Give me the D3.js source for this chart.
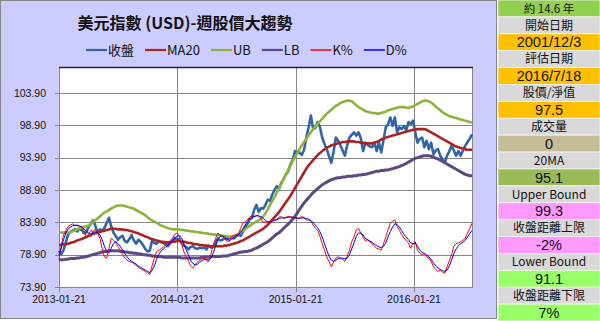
<!DOCTYPE html>
<html>
<head>
<meta charset="utf-8">
<script src="https://cdn.jsdelivr.net/npm/d3@7"></script>
<style>
  body { margin: 0; background: #fff; }
  svg { display: block; }
</style>
</head>
<body>
<svg width="600" height="321"></svg>
<script>
// 週資料 2013-01-21 ~ 2016-07-18
var startDate = "2013-01-21", endDate = "2016-07-18";

var closeVals = [
  79.5, 79.0, 79.6, 80.8, 82.0, 82.4, 82.6, 82.8, 82.5, 82.9,
  82.7, 82.2, 82.3, 83.2, 83.6, 84.2, 83.4, 82.3, 82.8, 82.6,
  83.0, 83.8, 84.6, 83.3, 82.3, 81.8, 81.2, 81.6, 81.8, 81.0,
  80.8, 81.3, 81.9, 81.1, 80.6, 81.2, 80.9, 80.4, 79.8, 79.4,
  79.5, 81.1, 80.7, 80.6, 81.0, 80.8, 80.7, 80.5, 80.2, 80.7,
  81.0, 81.5, 81.2, 81.3, 80.7, 80.3, 80.1, 79.7, 80.1, 80.2,
  79.9, 79.8, 80.0, 79.9, 80.0, 79.7, 80.3, 80.0, 80.1, 80.8,
  81.4, 81.1, 81.2, 81.4, 81.3, 81.5, 81.6, 81.4, 81.7, 82.0,
  81.8, 82.4, 83.2, 83.6, 84.4, 84.6, 85.8, 86.6, 85.5, 86.1,
  86.0, 86.6, 87.4, 87.2, 88.2, 88.9, 89.5, 89.1, 90.0, 90.6,
  91.3, 91.8, 92.9, 93.6, 94.9, 94.5, 94.7, 94.3, 95.1, 97.0,
  98.6, 100.4, 98.3, 98.5, 99.4, 98.6, 97.0, 96.0, 95.2, 94.1,
  93.1, 94.8, 97.0, 96.5, 95.8, 95.0, 94.2, 95.8, 97.0, 97.4,
  97.8, 97.3, 97.8, 96.9, 94.9, 96.2, 95.9, 95.6, 95.5, 96.2,
  94.9, 96.2, 94.7, 96.6, 98.6, 99.0, 100.1, 98.8, 100.1, 97.8,
  98.6, 98.3, 98.8, 98.1, 99.4, 99.1, 99.6, 97.8, 96.2, 96.8,
  97.0, 95.5, 96.5, 95.2, 96.2, 94.4, 95.0, 95.2, 94.2, 93.6,
  93.1, 94.2, 94.9, 95.7, 95.0, 94.2, 94.9, 94.2, 95.0, 95.7,
  96.3, 96.8, 97.5
];

var ma20Vals = [
  80.4, 80.4, 80.5, 80.5, 80.6, 80.7, 80.8, 80.9, 81.1, 81.2,
  81.3, 81.5, 81.6, 81.8, 81.9, 82.1, 82.2, 82.3, 82.4, 82.5,
  82.6, 82.7, 82.8, 82.9, 82.9, 82.9, 82.8, 82.8, 82.8, 82.7,
  82.7, 82.6, 82.5, 82.4, 82.3, 82.2, 82.0, 81.9, 81.7, 81.6,
  81.4, 81.3, 81.2, 81.1, 81.0, 80.9, 80.9, 80.8, 80.8, 80.8,
  80.9, 80.9, 81.0, 81.0, 80.9, 80.9, 80.8, 80.7, 80.7, 80.6,
  80.5, 80.5, 80.4, 80.4, 80.3, 80.3, 80.2, 80.2, 80.2, 80.2,
  80.2, 80.2, 80.2, 80.3, 80.3, 80.4, 80.5, 80.6, 80.7, 80.8,
  81.0, 81.1, 81.3, 81.5, 81.7, 81.9, 82.1, 82.3, 82.5, 82.7,
  82.9, 83.2, 83.5, 83.9, 84.3, 84.7, 85.1, 85.5, 86.0, 86.5,
  87.0, 87.5, 88.0, 88.6, 89.2, 89.8, 90.4, 91.0, 91.6, 92.2,
  92.7, 93.1, 93.5, 93.9, 94.3, 94.6, 94.9, 95.2, 95.4, 95.6,
  95.8, 95.9, 96.0, 96.1, 96.2, 96.3, 96.3, 96.4, 96.4, 96.4,
  96.4, 96.3, 96.3, 96.2, 96.2, 96.1, 96.1, 96.1, 96.1, 96.2,
  96.3, 96.5, 96.7, 96.8, 97.0, 97.1, 97.2, 97.3, 97.4, 97.5,
  97.6, 97.7, 97.8, 97.9, 98.0, 98.1, 98.2, 98.2, 98.3, 98.3,
  98.3, 98.3, 98.2, 98.0, 97.8, 97.6, 97.4, 97.2, 97.0, 96.8,
  96.6, 96.4, 96.2, 96.0, 95.8, 95.6, 95.5, 95.4, 95.3, 95.2,
  95.1, 95.1, 95.1
];

var ubVals = [
  82.3, 82.3, 82.3, 82.3, 82.3, 82.4, 82.5, 82.6, 82.8, 83.0,
  83.1, 83.2, 83.3, 83.4, 83.6, 83.9, 84.2, 84.5, 84.8, 85.1,
  85.4, 85.6, 85.8, 86.0, 86.2, 86.4, 86.5, 86.5, 86.5, 86.4,
  86.3, 86.2, 86.1, 86.0, 85.8, 85.6, 85.4, 85.2, 85.0, 84.7,
  84.4, 84.2, 84.0, 83.8, 83.6, 83.4, 83.3, 83.1, 83.0, 82.9,
  82.8, 82.8, 82.8, 82.8, 82.7, 82.7, 82.6, 82.6, 82.5, 82.5,
  82.4, 82.4, 82.3, 82.3, 82.2, 82.2, 82.1, 82.1, 82.0, 82.0,
  81.9, 81.9, 81.8, 81.8, 81.7, 81.7, 81.7, 81.8, 81.9, 82.1,
  82.4, 82.6, 82.8, 83.1, 83.3, 83.6, 83.8, 84.0, 84.2, 84.5,
  84.8, 85.3, 85.9, 86.6, 87.2, 87.8, 88.5, 89.2, 89.9, 90.6,
  91.3, 92.0, 92.7, 93.4, 94.0, 94.6, 95.2, 95.8, 96.3, 96.8,
  97.3, 97.8, 98.3, 98.7, 99.1, 99.5, 99.9, 100.3, 100.7, 101.0,
  101.3, 101.6, 101.9, 102.1, 102.3, 102.5, 102.6, 102.7, 102.7, 102.6,
  102.3, 102.0, 101.7, 101.5, 101.3, 101.1, 101.0, 100.9, 100.8, 100.8,
  100.7, 100.7, 100.8, 100.9, 101.0, 101.2, 101.3, 101.4, 101.5, 101.6,
  101.7, 101.7, 101.7, 101.6, 101.6, 101.7, 101.8, 102.0, 102.2, 102.4,
  102.6, 102.7, 102.7, 102.6, 102.4, 102.1, 101.8, 101.5, 101.2, 100.9,
  100.7, 100.5, 100.3, 100.2, 100.1, 100.0, 99.9, 99.8, 99.7, 99.6,
  99.5, 99.4, 99.3
];

var lbVals = [
  78.1, 78.1, 78.1, 78.2, 78.2, 78.3, 78.3, 78.3, 78.4, 78.4,
  78.5, 78.5, 78.6, 78.7, 78.8, 78.9, 79.0, 79.1, 79.2, 79.3,
  79.4, 79.4, 79.5, 79.5, 79.5, 79.5, 79.5, 79.4, 79.4, 79.3,
  79.3, 79.2, 79.2, 79.1, 79.1, 79.0, 79.0, 78.9, 78.9, 78.8,
  78.8, 78.7, 78.7, 78.6, 78.6, 78.6, 78.5, 78.5, 78.5, 78.5,
  78.5, 78.5, 78.5, 78.5, 78.4, 78.4, 78.4, 78.4, 78.4, 78.4,
  78.4, 78.4, 78.4, 78.5, 78.5, 78.5, 78.5, 78.6, 78.6, 78.6,
  78.6, 78.6, 78.7, 78.7, 78.7, 78.8, 78.9, 79.0, 79.1, 79.2,
  79.3, 79.3, 79.4, 79.4, 79.5, 79.6, 79.8, 79.9, 80.1, 80.3,
  80.5, 80.7, 80.9, 81.2, 81.5, 81.8, 82.1, 82.3, 82.6, 83.0,
  83.3, 83.6, 84.0, 84.4, 84.8, 85.3, 85.9, 86.4, 86.9, 87.3,
  87.7, 88.1, 88.5, 88.8, 89.1, 89.4, 89.7, 89.9, 90.1, 90.3,
  90.5, 90.6, 90.7, 90.8, 90.8, 90.9, 90.9, 91.0, 91.0, 91.0,
  91.1, 91.1, 91.2, 91.2, 91.3, 91.3, 91.4, 91.5, 91.6, 91.7,
  91.8, 91.8, 91.9, 91.9, 92.0, 92.0, 92.1, 92.2, 92.3, 92.4,
  92.5, 92.7, 92.8, 93.0, 93.2, 93.4, 93.6, 93.8, 93.9, 94.0,
  94.1, 94.2, 94.2, 94.2, 94.1, 94.0, 93.8, 93.7, 93.5, 93.3,
  93.1, 92.9, 92.7, 92.5, 92.3, 92.1, 91.9, 91.7, 91.5, 91.3,
  91.2, 91.1, 91.1
];

var kVals = [
  27, 50, 65, 72, 78, 80, 82, 79, 80, 78,
  78, 72, 63, 66, 72, 70, 74, 68, 60, 45,
  32, 30, 45, 60, 57, 53, 48, 42, 36, 30,
  27, 25, 24, 22, 19, 16, 14, 12, 10, 8,
  5, 18, 30, 40, 42, 44, 47, 50, 53, 57,
  60, 66, 68, 63, 52, 40, 32, 27, 18, 15,
  20, 24, 27, 29, 30, 26, 25, 37, 50, 60,
  68, 65, 62, 60, 56, 55, 62, 64, 66, 65,
  75, 83, 85, 88, 92, 95, 93, 95, 94, 90,
  84, 85, 84, 86, 88, 88, 89, 92, 93, 90,
  92, 93, 93, 92, 91, 90, 91, 93, 91, 88,
  88, 86, 80, 75, 72, 63, 52, 42, 32, 25,
  17, 24, 30, 32, 30, 28, 25, 33, 42, 55,
  62, 73, 75, 68, 62, 56, 58, 54, 52, 48,
  45, 44, 42, 52, 62, 73, 83, 86, 88, 78,
  72, 66, 60, 57, 53, 45, 52, 55, 42, 38,
  35, 37, 32, 30, 25, 17, 13, 10, 12, 9,
  7, 17, 26, 35, 48, 52, 53, 55, 57, 60,
  68, 75, 83
];

var dVals = [
  35, 45, 58, 68, 74, 77, 79, 80, 80, 79,
  77, 74, 71, 68, 67, 69, 70, 69, 65, 58,
  48, 40, 38, 45, 52, 55, 52, 48, 42, 37,
  32, 28, 25, 23, 21, 18, 16, 14, 12, 10,
  8, 11, 18, 28, 36, 41, 44, 47, 50, 53,
  56, 60, 63, 64, 61, 52, 43, 35, 27, 22,
  20, 21, 24, 26, 28, 28, 27, 30, 38, 48,
  58, 63, 64, 62, 59, 57, 58, 61, 64, 65,
  69, 74, 80, 85, 88, 92, 93, 94, 94, 93,
  90, 87, 85, 85, 86, 87, 88, 90, 91, 91,
  91, 92, 92, 92, 91, 91, 90, 91, 91, 90,
  89, 87, 84, 80, 76, 70, 62, 52, 42, 33,
  27, 25, 27, 29, 30, 30, 29, 30, 35, 44,
  53, 63, 68, 68, 65, 60, 58, 56, 54, 51,
  49, 47, 46, 48, 53, 62, 70, 77, 82, 81,
  77, 72, 66, 62, 58, 53, 52, 53, 48, 42,
  39, 37, 35, 32, 28, 23, 18, 15, 13, 11,
  10, 12, 18, 27, 37, 44, 49, 52, 54, 57,
  62, 67, 72
];

var yTicks = [73.9, 78.9, 83.9, 88.9, 93.9, 98.9, 103.9];
var xTickLabels = ["2013-01-21", "2014-01-21", "2015-01-21", "2016-01-21"];
var legendNames = ["收盤", "MA20", "UB", "LB", "K%", "D%"];

// 右側資訊欄
var panelTexts = ["約 14.6 年", "開始日期", "2001/12/3", "評估日期", "2016/7/18",
  "股價/淨值", "97.5", "成交量", "0", "20MA", "95.1", "Upper Bound", "99.3",
  "收盤距離上限", "-2%", "Lower Bound", "91.1", "收盤距離下限", "7%"];

(function () {
  var svg = d3.select("svg");
  var parse = d3.timeParse("%Y-%m-%d");
  var weeks = d3.timeMonday.range(parse(startDate), d3.timeDay.offset(parse(endDate), 1));

  var plot = { left: 59, right: 472, top: 67, bottom: 287 };
  var cjk = "'Noto Sans CJK TC', 'Noto Sans', sans-serif";
  var latin = "'Liberation Sans', Arial, sans-serif";

  var x = d3.scaleTime()
    .domain([weeks[0], weeks[weeks.length - 1]])
    .range([plot.left, plot.right]);
  var y = d3.scaleLinear()
    .domain([73.9, 107.9])
    .range([plot.bottom, plot.top]);
  // K% / D% 使用隱藏的次座標
  var yKD = d3.scaleLinear()
    .domain([0, 100])
    .range([y(75.3), y(85.5)]);

  // 圖表區背景
  svg.append("rect")
    .attr("x", 0.5).attr("y", 0.5)
    .attr("width", 496).attr("height", 318)
    .attr("fill", "#CCCCFF")
    .attr("stroke", "#868686");

  svg.append("rect")
    .attr("x", plot.left).attr("y", plot.top)
    .attr("width", plot.right - plot.left)
    .attr("height", plot.bottom - plot.top)
    .attr("fill", "#fff");

  // 格線
  var grid = svg.append("g").attr("stroke", "#868686").attr("stroke-width", 1);
  grid.selectAll("line.h")
    .data(yTicks)
    .enter().append("line")
    .attr("x1", plot.left - 4).attr("x2", plot.right)
    .attr("y1", function (d) { return Math.round(y(d)) + 0.5; })
    .attr("y2", function (d) { return Math.round(y(d)) + 0.5; });

  grid.selectAll("line.v")
    .data(xTickLabels)
    .enter().append("line")
    .attr("x1", function (d) { return Math.round(x(parse(d))) + 0.5; })
    .attr("x2", function (d) { return Math.round(x(parse(d))) + 0.5; })
    .attr("y1", plot.top)
    .attr("y2", plot.bottom + 5);

  svg.append("rect")
    .attr("x", plot.left + 0.5).attr("y", plot.top + 0.5)
    .attr("width", plot.right - plot.left)
    .attr("height", plot.bottom - plot.top)
    .attr("fill", "none")
    .attr("stroke", "#868686");
  svg.append("line")
    .attr("x1", plot.left).attr("x2", plot.right + 1)
    .attr("y1", plot.top + 0.5).attr("y2", plot.top + 0.5)
    .attr("stroke", "#222").attr("stroke-width", 1.5);

  // 座標軸文字
  svg.append("g").selectAll("text")
    .data(yTicks)
    .enter().append("text")
    .attr("x", 46)
    .attr("y", function (d) { return y(d); })
    .attr("dy", "0.35em")
    .attr("text-anchor", "end")
    .attr("font-family", latin)
    .attr("font-size", 10.5)
    .attr("fill", "#111")
    .text(d3.format(".2f"));

  svg.append("g").selectAll("text")
    .data(xTickLabels)
    .enter().append("text")
    .attr("x", function (d) { return x(parse(d)); })
    .attr("y", 303)
    .attr("text-anchor", "middle")
    .attr("font-family", latin)
    .attr("font-size", 10.5)
    .attr("fill", "#111")
    .text(function (d) { return d; });

  // 線
  var series = [
    { vals: closeVals, color: "#3165A5", w: 2.6, sc: y },
    { vals: ma20Vals, color: "#AA2424", w: 2.6, sc: y },
    { vals: ubVals, color: "#8CB43C", w: 2.6, sc: y },
    { vals: lbVals, color: "#5E4A82", w: 3, sc: y },
    { vals: kVals, color: "#FF0000", w: 1, sc: yKD },
    { vals: dVals, color: "#0000FF", w: 1, sc: yKD }
  ];

  series.forEach(function (s) {
    var line = d3.line()
      .x(function (d, i) { return x(weeks[i]); })
      .y(function (d) { return s.sc(d); });
    svg.append("path")
      .datum(s.vals)
      .attr("fill", "none")
      .attr("stroke", s.color)
      .attr("stroke-width", s.w)
      .attr("stroke-linejoin", "round")
      .attr("d", line);
  });

  // 標題
  svg.append("text")
    .attr("x", 185).attr("y", 29)
    .attr("text-anchor", "middle")
    .attr("font-family", cjk)
    .attr("font-size", 16)
    .attr("font-weight", "bold")
    .attr("fill", "#111")
    .text("美元指數 (USD)-週股價大趨勢");

  // 圖例
  var lx = 86;
  legendNames.forEach(function (name, i) {
    var s = series[i];
    svg.append("line")
      .attr("x1", lx).attr("x2", lx + 21)
      .attr("y1", 50).attr("y2", 50)
      .attr("stroke", s.color)
      .attr("stroke-width", s.w > 1.5 ? 2.2 : 1.5);
    var t = svg.append("text")
      .attr("x", lx + 22).attr("y", 50)
      .attr("dy", "0.35em")
      .attr("font-family", cjk)
      .attr("font-size", 13)
      .attr("fill", "#111")
      .text(name);
    lx += 22 + t.node().getComputedTextLength() + 11;
  });

  // 右側表格
  var rowH = 321 / panelTexts.length;
  var panelColors = ["#92D050", "#D9D9D9", "#FFC000", "#D9D9D9", "#FFC000",
    "#D9D9D9", "#FFC000", "#D9D9D9", "#C4BD97", "#D9D9D9", "#9BBB59",
    "#D9D9D9", "#FF99FF", "#D9D9D9", "#FF99FF", "#D9D9D9", "#99FF66",
    "#D9D9D9", "#99FF66"];
  var panel = svg.append("g");
  panel.selectAll("rect")
    .data(panelTexts)
    .enter().append("rect")
    .attr("x", 498).attr("y", function (d, i) { return i * rowH; })
    .attr("width", 102).attr("height", rowH)
    .attr("fill", function (d, i) { return panelColors[i]; })
    .attr("stroke", "#F4F4F4").attr("stroke-width", 0.8);
  panel.selectAll("text")
    .data(panelTexts)
    .enter().append("text")
    .attr("x", 549)
    .attr("y", function (d, i) { return i * rowH + rowH / 2 + (i === 0 ? 0.3 : 0); })
    .attr("dy", "0.36em")
    .attr("text-anchor", "middle")
    .attr("font-family", function (d, i) { return (i % 2 === 0 && i > 0) ? latin : cjk; })
    .attr("font-size", function (d, i) { return i === 0 ? 11.5 : (i % 2 === 0 ? 14.5 : 12); })
    .attr("fill", "#111")
    .text(function (d) { return d; });
})();
</script>
</body>
</html>
